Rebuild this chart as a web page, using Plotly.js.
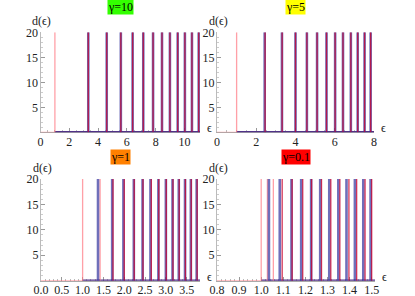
<!DOCTYPE html>
<html><head><meta charset="utf-8">
<script src="https://cdn.plot.ly/plotly-3.0.1.min.js"></script>
<style>html,body{margin:0;padding:0;background:#fff}#c{width:415px;height:296px}</style>
</head><body><div id="c"></div>
<script>
// ---- data ----
const gammaLabels = ["γ=10", "γ=5", "γ=1", "γ=0.1"];
const titleColors = ["#33ff00", "#ffff00", "#ff8000", "#ff0000"];
const groundLevel = [1.0, 1.0, 1.0, 1.0];
const axisStart = [0, 0, 0, 0.8];
const axisEnd = [11.08, 8.0, 3.82, 1.515];
const dMax = 20;

const blue10 = [3.32, 4.60, 5.58, 6.40, 7.14, 7.82, 8.44, 8.99, 9.53, 10.03, 10.52, 10.99];
const red10  = [3.32, 4.60, 5.58, 6.40, 7.14, 7.82, 8.44, 8.99, 9.53, 10.03, 10.52, 10.99];
const pale10 = [1.0];

const blue5 = [2.43, 3.31, 4.0, 4.58, 5.10, 5.58, 6.02, 6.42, 6.82, 7.17, 7.52, 7.83];
const red5  = [2.45, 3.32, 4.0, 4.58, 5.10, 5.58, 6.02, 6.42, 6.82, 7.17, 7.52, 7.83];
const pale5 = [1.0];

const blue1 = [1.37, 1.71, 1.98, 2.23, 2.44, 2.63, 2.82, 3.0, 3.16, 3.31, 3.46, 3.60, 3.74];
const red1  = [1.73, 2.00, 2.24, 2.45, 2.65, 2.83, 3.01, 3.17, 3.32, 3.47, 3.61, 3.75];
const pale1 = [1.0, 1.42];

const blue01 = [1.035, 1.084, 1.137, 1.181, 1.226, 1.267, 1.308, 1.349, 1.386, 1.424, 1.462, 1.495];
const red01  = [1.095, 1.140, 1.188, 1.228, 1.273, 1.315, 1.356, 1.397, 1.432, 1.470, 1.500];
const pale01 = [1.0, 1.028, 1.055];

const xTickStep = [2, 2, 0.5, 0.1];
const xMinorStep = [0.5, 0.5, 0.1, 0.02];
const yTicks = [5, 10, 15, 20];

// ---- layout geometry (pixels) ----
const W = 415, H = 296;
const panels = [
  {x0: 40.5, x1: 200, y0: 32.3, y1: 132.3, tx: 120, ty: 7.5},
  {x0: 217, x1: 374, y0: 32.3, y1: 132.3, tx: 295.7, ty: 7.5},
  {x0: 41, x1: 200, y0: 179, y1: 280.7, tx: 120, ty: 157},
  {x0: 217, x1: 375, y0: 179, y1: 280.7, tx: 295.7, ty: 157}
];
const blues = [blue10, blue5, blue1, blue01];
const reds = [red10, red5, red1, red01];
const pales = [pale10, pale5, pale1, pale01];

function spikes(vals) {
  const xs = [], ys = [];
  vals.forEach(v => { xs.push(v, v, null); ys.push(0, dMax, null); });
  return {xs, ys};
}

const BLUE = "rgba(55,55,160,0.72)";
const RED = "rgba(200,0,45,0.78)";
const PALE = "rgba(255,120,130,0.7)";

const traces = [];
const layout = {
  width: W, height: H, margin: {l: 0, r: 0, t: 0, b: 0},
  paper_bgcolor: "#fff", plot_bgcolor: "#fff", showlegend: false,
  annotations: []
};
const font = {family: "Liberation Serif, DejaVu Serif, serif", size: 12, color: "#222"};

panels.forEach((p, i) => {
  const n = i + 1;
  const xa = n === 1 ? "x" : "x" + n, ya = n === 1 ? "y" : "y" + n;
  const xk = n === 1 ? "xaxis" : "xaxis" + n, yk = n === 1 ? "yaxis" : "yaxis" + n;
  // baseline
  traces.push({x: [axisStart[i], groundLevel[i]], y: [0, 0], xaxis: xa, yaxis: ya, mode: "lines",
    line: {color: PALE, width: 1}, hoverinfo: "skip", cliponaxis: false});
  traces.push({x: [groundLevel[i], axisEnd[i]], y: [0, 0], xaxis: xa, yaxis: ya, mode: "lines",
    line: {color: "rgba(80,50,135,1)", width: 2.5}, hoverinfo: "skip", cliponaxis: false});
  const pl = spikes(pales[i]);
  traces.push({x: pl.xs, y: pl.ys, xaxis: xa, yaxis: ya, mode: "lines", line: {color: PALE, width: 1.3}, hoverinfo: "skip"});
  const b = spikes(blues[i]);
  traces.push({x: b.xs, y: b.ys, xaxis: xa, yaxis: ya, mode: "lines", line: {color: BLUE, width: 2.6}, hoverinfo: "skip"});
  const r = spikes(reds[i]);
  traces.push({x: r.xs, y: r.ys, xaxis: xa, yaxis: ya, mode: "lines", line: {color: RED, width: 1.3}, hoverinfo: "skip"});

  layout[xk] = {
    domain: [p.x0 / W, p.x1 / W], anchor: ya, range: [axisStart[i], axisEnd[i]],
    showgrid: false, zeroline: false, showline: true, linecolor: "#aaa", linewidth: 1, layer: "below traces",
    ticks: "inside", ticklen: 4, tickcolor: "#999", tickwidth: 1, ticklabelstandoff: -2,
    tick0: axisStart[i], dtick: xTickStep[i], tickformat: i >= 2 ? ".1f" : "d",
    minor: {ticks: "inside", ticklen: 2, tickcolor: "#bbb", dtick: xMinorStep[i], tick0: axisStart[i], showgrid: false},
    tickfont: font, fixedrange: true
  };
  layout[yk] = {
    domain: [1 - p.y1 / H, 1 - p.y0 / H], anchor: xa, range: [0, dMax],
    showgrid: false, zeroline: false, showline: true, linecolor: "#bbb", linewidth: 1, layer: "below traces",
    ticks: "inside", ticklen: 4, tickcolor: "#999", tickvals: yTicks, ticklabelstandoff: -1,
    minor: {ticks: "inside", ticklen: 2, tickcolor: "#ccc", dtick: 1, showgrid: false},
    tickfont: font, fixedrange: true
  };
  layout.annotations.push({xref: "paper", yref: "paper", x: p.tx / W, y: 1 - p.ty / H,
    text: gammaLabels[i], showarrow: false, bgcolor: titleColors[i], borderpad: 0,
    font: {family: "Liberation Serif, serif", size: 12, color: "#000"}, xanchor: "center", yanchor: "middle"});
  layout.annotations.push({xref: "paper", yref: "paper", x: (p.x0 + 1) / W, y: 1 - (p.y0 - 11) / H,
    text: "d(ϵ)", showarrow: false, font: {family: "Liberation Serif, serif", size: 12, color: "#222"},
    xanchor: "center", yanchor: "middle"});
  layout.annotations.push({xref: "paper", yref: "paper", x: (p.x1 + 9) / W, y: 1 - (p.y1 - 4) / H,
    text: "ϵ", showarrow: false, font: {family: "Liberation Serif, serif", size: 12, color: "#222"},
    xanchor: "center", yanchor: "middle"});
});

Plotly.newPlot("c", traces, layout, {displayModeBar: false, staticPlot: true});
</script></body></html>
